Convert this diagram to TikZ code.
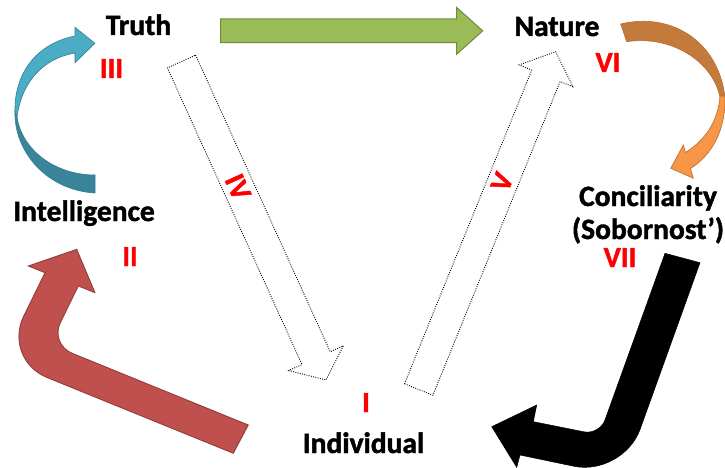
\documentclass[tikz,border=0pt]{standalone}
\usepackage{fontspec}
\setmainfont{Carlito}[BoldFeatures={FakeBold=1.5}]
\usetikzlibrary{calc}
\definecolor{grnF}{HTML}{9BBB59}
\definecolor{grnD}{HTML}{71893F}
\definecolor{redF}{HTML}{C0504D}
\definecolor{redD}{HTML}{8C3836}
\definecolor{tealA}{HTML}{4BACC6}
\definecolor{tealB}{HTML}{3A8499}
\definecolor{tealD}{HTML}{357D91}
\definecolor{orgA}{HTML}{F79646}
\definecolor{orgB}{HTML}{C47A3A}
\definecolor{orgD}{HTML}{B66D31}
\definecolor{numred}{HTML}{FF0000}
\newcommand\blockarrow[6]{%
  \coordinate (hbase) at ($(#3)!#6!(#2)$);
  \draw[#1] ($(#2)!#4!90:(#3)$) -- ($(hbase)!#4!90:(#3)$) -- ($(hbase)!#5!90:(#3)$) -- (#3)
    -- ($(hbase)!#5!-90:(#3)$) -- ($(hbase)!#4!-90:(#3)$) -- ($(#2)!#4!-90:(#3)$) -- cycle;}
\begin{document}
\begin{tikzpicture}[x=1pt,y=-1pt,
  lbl/.style={font=\fontsize{29.5}{33}\selectfont\bfseries, text=black, inner sep=0pt, anchor=base},
  num/.style={font=\fontsize{29}{30}\selectfont\bfseries, text=numred, inner sep=0pt, anchor=base},
  greenarrow/.style={fill=grnF, draw=grnD, line width=1pt, line join=miter},
  dotarrow/.style={draw=black, line width=0.9pt, dash pattern=on 0.9pt off 1.4pt, line join=miter},
  redarrow/.style={fill=redF, draw=redD, line width=0.8pt, line join=miter},
  blackarrow/.style={fill=black, draw=black, line width=0.5pt},
  tealup/.style={fill=tealA, draw=tealD, line width=0.6pt},
  tealdown/.style={fill=tealB, draw=tealD, line width=0.6pt},
  orgup/.style={fill=orgB, draw=orgD, line width=0.6pt},
  orgdown/.style={fill=orgA, draw=orgD, line width=0.6pt}]
\useasboundingbox (0,0) rectangle (725,468);

% concept labels
\node[lbl] (truth) at (138.5,35) {Truth};
\node[lbl] (nature) at (557,36) {Nature};
\node[lbl] (intel) at (84,221) {Intelligence};
\node[lbl, align=center] (concil) at (648,239) {Conciliarity\\(Sobornost’)};
\node[lbl] (indiv) at (363.5,453) {Individual};

% arrow end coordinates
\coordinate (gS) at (220.7,30.85);
\coordinate (gE) at (482.7,30.85);
\coordinate (ivS) at (181.5,61.5);
\coordinate (ivE) at (326,380);
\coordinate (vS) at (418.7,389.5);
\coordinate (vE) at (555.7,51.7);

% green arrow Truth -> Nature
\blockarrow{greenarrow}{gS}{gE}{11.85pt}{23.35pt}{26pt}
% dotted arrows
\blockarrow{dotarrow}{ivS}{ivE}{15.5pt}{30pt}{24pt}
\blockarrow{dotarrow}{vS}{vE}{15.3pt}{29pt}{26pt}

% teal curved arrow (Intelligence -> Truth)
\draw[tealdown] (15,112) .. controls (14,150) and (45,190) .. (95,193) -- (95,175)
  .. controls (55,175) and (22,150) .. (17,117) -- cycle;
\draw[tealup] (15,112) .. controls (14,75) and (35,44) .. (75,36) -- (75,27.3) -- (95,43.3)
  -- (75,62.7) -- (75,53) .. controls (45,58) and (22,80) .. (17,117) -- cycle;

% orange curved arrow (Nature -> Conciliarity)
\draw[orgup] (620.7,24) .. controls (670,12) and (718,40) .. (725,97) -- (720,97)
  .. controls (712,60) and (670,35) .. (626.7,41.7) -- cycle;
\draw[orgdown] (720,96) -- (725,96) .. controls (726,130) and (712,155) .. (690.5,168.5)
  -- (693.3,178.3) -- (670.7,168.3) -- (683.3,145) -- (685.5,152.5)
  .. controls (705,140) and (718,122) .. (720,96) -- cycle;

% red bent arrow (Individual -> Intelligence)
\draw[redarrow] (76.7,249.3) -- (95,292.7) -- (78.3,286) -- (60.4,322.6)
  .. controls (54.6,334.5) and (59.8,348.2) .. (72,353.2) -- (248.3,425) -- (233.3,453.3)
  -- (47,377.5) .. controls (22.5,367.5) and (12,340) .. (23.6,316.3) -- (45,272.7)
  -- (28.3,266) -- cycle;

% black bent arrow (Conciliarity -> Individual)
\draw[blackarrow] (491.7,426.7) -- (536.7,405) -- (533.3,421.7) -- (583.9,431.8)
  .. controls (592.5,433.6) and (602,428.2) .. (605,419.9) -- (665,253.3) -- (700,262.7)
  -- (640.1,429.3) .. controls (630.7,455.2) and (601.1,471.8) .. (574.1,466.3)
  -- (520,455) -- (516.7,467.3) -- cycle;

% roman numerals
\node[num] (n1) at (366,412) {I};
\node[num] (n2) at (130,266) {II};
\node[num] (n3) at (111.5,78) {III};
\node[num, anchor=center, rotate=-65.6] (n4) at (238,187) {IV};
\node[num, anchor=center, rotate=67.9] (n5) at (502,182) {V};
\node[num] (n6) at (608,72) {VI};
\node[num] (n7) at (620,267) {VII};
\end{tikzpicture}
\end{document}
